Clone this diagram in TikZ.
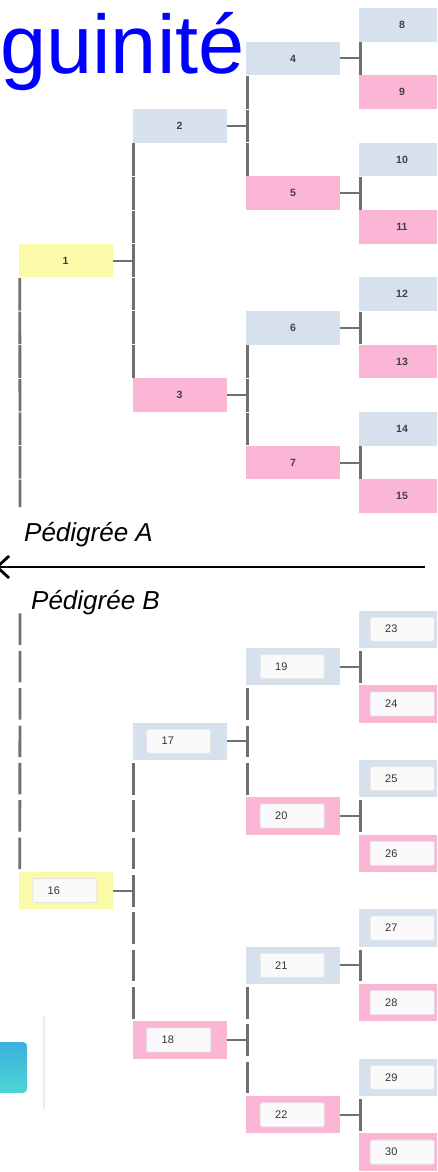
\documentclass[tikz,border=0pt]{standalone}
\usepackage{fontspec}
\setmainfont{Liberation Sans}
\usepackage{tikz}
\usetikzlibrary{positioning,arrows.meta}
\definecolor{pd_blue}{RGB}{215, 225, 237}
\definecolor{pd_pink}{RGB}{251, 182, 214}
\definecolor{pd_yellow}{RGB}{250, 250, 168}
\definecolor{pd_line}{RGB}{112, 112, 112}
\definecolor{pd_title}{RGB}{0, 0, 255}
\definecolor{icon_a}{RGB}{58, 176, 222}
\definecolor{icon_b}{RGB}{78, 214, 214}
\tikzstyle{pbox}=[rectangle,inner sep=0pt,minimum width=94pt,
  font=\fontsize{10.5}{12}\selectfont\bfseries,text=black!75]
\tikzstyle{bn}=[pbox,fill=pd_blue]
\tikzstyle{pn}=[pbox,fill=pd_pink]
\tikzstyle{yn}=[pbox,fill=pd_yellow]
\tikzstyle{rowa}=[minimum height=33.6pt]
\tikzstyle{rowb}=[minimum height=37.3pt]
\tikzstyle{c4}=[minimum width=86pt]
\tikzstyle{ib}=[rectangle,rounded corners=1.5pt,fill=black!2,draw=black!10,
  line width=0.8pt,minimum height=24pt,text width=34pt,inner xsep=15pt,
  inner ysep=0pt,align=left,font=\fontsize{11}{12}\selectfont,text=black!80]
\tikzstyle{hl}=[pd_line,line width=2pt]
\tikzstyle{vla}=[pd_line,line width=2.8pt,dash pattern=on 32.6pt off 1pt,
  dash phase=33.1pt]
\tikzstyle{vlb}=[pd_line,line width=2.8pt,dash pattern=on 31.5pt off 5.85pt,
  dash phase=34.4pt]
\tikzstyle{ped}=[inner sep=0pt,anchor=base west,
  font=\fontsize{26}{30}\selectfont\itshape]

\begin{document}
\begin{tikzpicture}[x=1pt,y=-1pt]
    \useasboundingbox (0,0) rectangle (437,1172);
    \clip (0,0) rectangle (437,1172);
    \node[inner sep=0pt,anchor=base east,text=pd_title,
      font=\fontsize{83}{83}\selectfont] (ttl) at (245,74) {guinité};
    % pedigree A
    \node [style=yn,rowa] (p1) at (65.5,260.5) {1};
    \node [style=bn,rowa] (p2) at (179.5,125.8) {2};
    \node [style=pn,rowa] (p3) at (179.5,395.2) {3};
    \node [style=bn,rowa] (p4) at (293,58.5) {4};
    \node [style=pn,rowa] (p5) at (293,193.2) {5};
    \node [style=bn,rowa] (p6) at (293,327.8) {6};
    \node [style=pn,rowa] (p7) at (293,462.5) {7};
    \node [style=bn,rowa,c4] (p8) at (402,24.8) {8};
    \node [style=pn,rowa,c4] (p9) at (402,92.1) {9};
    \node [style=bn,rowa,c4] (p10) at (402,159.5) {10};
    \node [style=pn,rowa,c4] (p11) at (402,226.8) {11};
    \node [style=bn,rowa,c4] (p12) at (402,294.2) {12};
    \node [style=pn,rowa,c4] (p13) at (402,361.5) {13};
    \node [style=bn,rowa,c4] (p14) at (402,428.8) {14};
    \node [style=pn,rowa,c4] (p15) at (402,496.2) {15};
    \coordinate (enda) at (20,507);
    \draw[vla] ([xshift=1.5pt]p1.south west) to (enda);
    \draw[hl] (p1.east) to (p1.east -| p2.west);
    \draw[vla] ([xshift=1.5pt]p2.south west) to ([xshift=1.5pt]p3.north west);
    \draw[hl] (p2.east) to (p2.east -| p4.west);
    \draw[vla] ([xshift=1.5pt]p4.south west) to ([xshift=1.5pt]p5.north west);
    \draw[hl] (p3.east) to (p3.east -| p6.west);
    \draw[vla] ([xshift=1.5pt]p6.south west) to ([xshift=1.5pt]p7.north west);
    \draw[hl] (p4.east) to (p4.east -| p8.west);
    \draw[vla] ([xshift=1.5pt]p8.south west) to ([xshift=1.5pt]p9.north west);
    \draw[hl] (p5.east) to (p5.east -| p10.west);
    \draw[vla] ([xshift=1.5pt]p10.south west) to ([xshift=1.5pt]p11.north west);
    \draw[hl] (p6.east) to (p6.east -| p12.west);
    \draw[vla] ([xshift=1.5pt]p12.south west) to ([xshift=1.5pt]p13.north west);
    \draw[hl] (p7.east) to (p7.east -| p14.west);
    \draw[vla] ([xshift=1.5pt]p14.south west) to ([xshift=1.5pt]p15.north west);
    % separator
    \node[ped] (pa) at (24,541) {Pédigrée A};
    \node[ped] (pb) at (31,609) {Pédigrée B};
    \coordinate (sepr) at (425,567);
    \coordinate (sepl) at (-5,567);
    \draw[line width=2.8pt,-{Straight Barb[length=12pt,width=22pt]}] (sepr) to (sepl);
    % pedigree B
    \node [style=yn,rowb] (p16) at (65.5,890.6) {};
    \node [style=bn,rowb] (p17) at (179.5,741.2) {};
    \node [style=pn,rowb] (p18) at (179.5,1040.0) {};
    \node [style=bn,rowb] (p19) at (293,666.5) {};
    \node [style=pn,rowb] (p20) at (293,815.9) {};
    \node [style=bn,rowb] (p21) at (293,965.3) {};
    \node [style=pn,rowb] (p22) at (293,1114.8) {};
    \node [style=bn,rowb,c4] (p23) at (402,629.2) {};
    \node [style=pn,rowb,c4] (p24) at (402,703.9) {};
    \node [style=bn,rowb,c4] (p25) at (402,778.6) {};
    \node [style=pn,rowb,c4] (p26) at (402,853.3) {};
    \node [style=bn,rowb,c4] (p27) at (402,928.0) {};
    \node [style=pn,rowb,c4] (p28) at (402,1002.7) {};
    \node [style=bn,rowb,c4] (p29) at (402,1077.4) {};
    \node [style=pn,rowb,c4] (p30) at (402,1152.1) {};
    \node [style=ib,right=14pt of p16.west] (t16) {16};
    \node [style=ib,right=14pt of p17.west] (t17) {17};
    \node [style=ib,right=14pt of p18.west] (t18) {18};
    \node [style=ib,right=14pt of p19.west] (t19) {19};
    \node [style=ib,right=14pt of p20.west] (t20) {20};
    \node [style=ib,right=14pt of p21.west] (t21) {21};
    \node [style=ib,right=14pt of p22.west] (t22) {22};
    \node [style=ib,right=11pt of p23.west] (t23) {23};
    \node [style=ib,right=11pt of p24.west] (t24) {24};
    \node [style=ib,right=11pt of p25.west] (t25) {25};
    \node [style=ib,right=11pt of p26.west] (t26) {26};
    \node [style=ib,right=11pt of p27.west] (t27) {27};
    \node [style=ib,right=11pt of p28.west] (t28) {28};
    \node [style=ib,right=11pt of p29.west] (t29) {29};
    \node [style=ib,right=11pt of p30.west] (t30) {30};
    \coordinate (topb) at (20,610.5);
    \draw[vlb] (topb) to ([xshift=1.5pt]p16.north west);
    \draw[hl] (p16.east) to (p16.east -| p17.west);
    \draw[vlb] ([xshift=1.5pt]p17.south west) to ([xshift=1.5pt]p18.north west);
    \draw[hl] (p17.east) to (p17.east -| p19.west);
    \draw[vlb] ([xshift=1.5pt]p19.south west) to ([xshift=1.5pt]p20.north west);
    \draw[hl] (p18.east) to (p18.east -| p21.west);
    \draw[vlb] ([xshift=1.5pt]p21.south west) to ([xshift=1.5pt]p22.north west);
    \draw[hl] (p19.east) to (p19.east -| p23.west);
    \draw[vlb] ([xshift=1.5pt]p23.south west) to ([xshift=1.5pt]p24.north west);
    \draw[hl] (p20.east) to (p20.east -| p25.west);
    \draw[vlb] ([xshift=1.5pt]p25.south west) to ([xshift=1.5pt]p26.north west);
    \draw[hl] (p21.east) to (p21.east -| p27.west);
    \draw[vlb] ([xshift=1.5pt]p27.south west) to ([xshift=1.5pt]p28.north west);
    \draw[hl] (p22.east) to (p22.east -| p29.west);
    \draw[vlb] ([xshift=1.5pt]p29.south west) to ([xshift=1.5pt]p30.north west);
    % side button
    \shade[rounded corners=4pt,top color=icon_a,bottom color=icon_b]
      (-10,1042) rectangle (27,1093);
    \draw[line width=1.4pt,black!8] (44,1016) to (44,1109);
  \end{tikzpicture}
\end{document}
